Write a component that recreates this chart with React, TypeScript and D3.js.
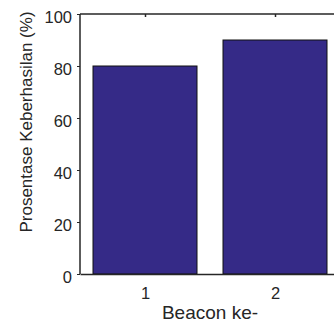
import { useEffect, useRef } from 'react';
import * as d3 from 'd3';

const categories = [1, 2];
const values = [80, 90];
const yTicks = [0, 20, 40, 60, 80, 100];
const xLabel = 'Beacon ke-';
const yLabel = 'Prosentase Keberhasilan (%)';

export default function App() {
  const svgRef = useRef<SVGSVGElement>(null);

  useEffect(() => {
    if (!svgRef.current) return;
    const svg = d3.select(svgRef.current);
    svg.selectAll('*').remove();

    const width = 334;
    const height = 331;
    const margin = { left: 80, top: 14, bottom: 57 };
    const axisColor = '#262626';
    const font = '"Liberation Sans", Arial, sans-serif';

    // axes box extends a bit past the visible window on the right
    const x = d3.scaleLinear().domain([0.5, 2.5]).range([margin.left, 340]);
    const y = d3.scaleLinear().domain([0, 100]).range([height - margin.bottom, margin.top]);
    const barW = 0.8;

    svg.append('rect')
      .attr('width', width)
      .attr('height', height)
      .attr('fill', '#fff');

    svg.append('g')
      .selectAll('rect')
      .data(values)
      .join('rect')
      .attr('x', (d, i) => x(categories[i] - barW / 2))
      .attr('y', (d) => y(d))
      .attr('width', x(1 + barW) - x(1))
      .attr('height', (d) => y(0) - y(d))
      .attr('fill', '#352a87')
      .attr('stroke', '#111')
      .attr('stroke-width', 1);

    // left axis
    const left = svg.append('g')
      .attr('transform', `translate(${margin.left},0)`)
      .call(d3.axisLeft(y).tickValues(yTicks).tickSize(3).tickPadding(5).tickFormat(d3.format('d')));
    left.select('.domain').attr('stroke', axisColor).attr('stroke-width', 1.5).attr('d', `M0,${y(100)}V${y(0)}`);
    left.selectAll('line').attr('stroke', axisColor);
    left.selectAll('text')
      .attr('dy', '0.5em')
      .style('font-family', font)
      .style('font-size', '16.5px')
      .attr('fill', axisColor);

    // bottom axis
    const bottom = svg.append('g')
      .attr('transform', `translate(0,${y(0)})`)
      .call(d3.axisBottom(x).tickValues(categories).tickSize(0).tickPadding(13).tickFormat(d3.format('d')));
    bottom.select('.domain').attr('stroke', axisColor).attr('stroke-width', 1.5);
    bottom.selectAll('text')
      .style('font-family', font)
      .style('font-size', '16.5px')
      .attr('fill', axisColor);

    // top box line with inward ticks
    const top = svg.append('g')
      .attr('transform', `translate(0,${y(100)})`)
      .call(d3.axisBottom(x).tickValues(categories).tickSize(3).tickFormat(() => ''));
    top.select('.domain').attr('stroke', axisColor).attr('stroke-width', 1.5).attr('d', `M${margin.left},0H340`);
    top.selectAll('line').attr('stroke', axisColor).attr('stroke-width', 1.5);

    svg.append('text')
      .attr('x', x(1.5))
      .attr('y', 319)
      .attr('text-anchor', 'middle')
      .style('font-family', font)
      .style('font-size', '19px')
      .attr('fill', axisColor)
      .text(xLabel);

    svg.append('text')
      .attr('transform', `translate(32,${(y(0) + y(100)) / 2 - 22}) rotate(-90)`)
      .attr('text-anchor', 'middle')
      .style('font-family', font)
      .style('font-size', '17px')
      .attr('fill', axisColor)
      .text(yLabel);
  }, []);

  return (
    <div style={{ position: 'absolute', left: 0, top: 0 }}>
      <svg ref={svgRef} width={334} height={331} style={{ display: 'block' }} />
    </div>
  );
}
